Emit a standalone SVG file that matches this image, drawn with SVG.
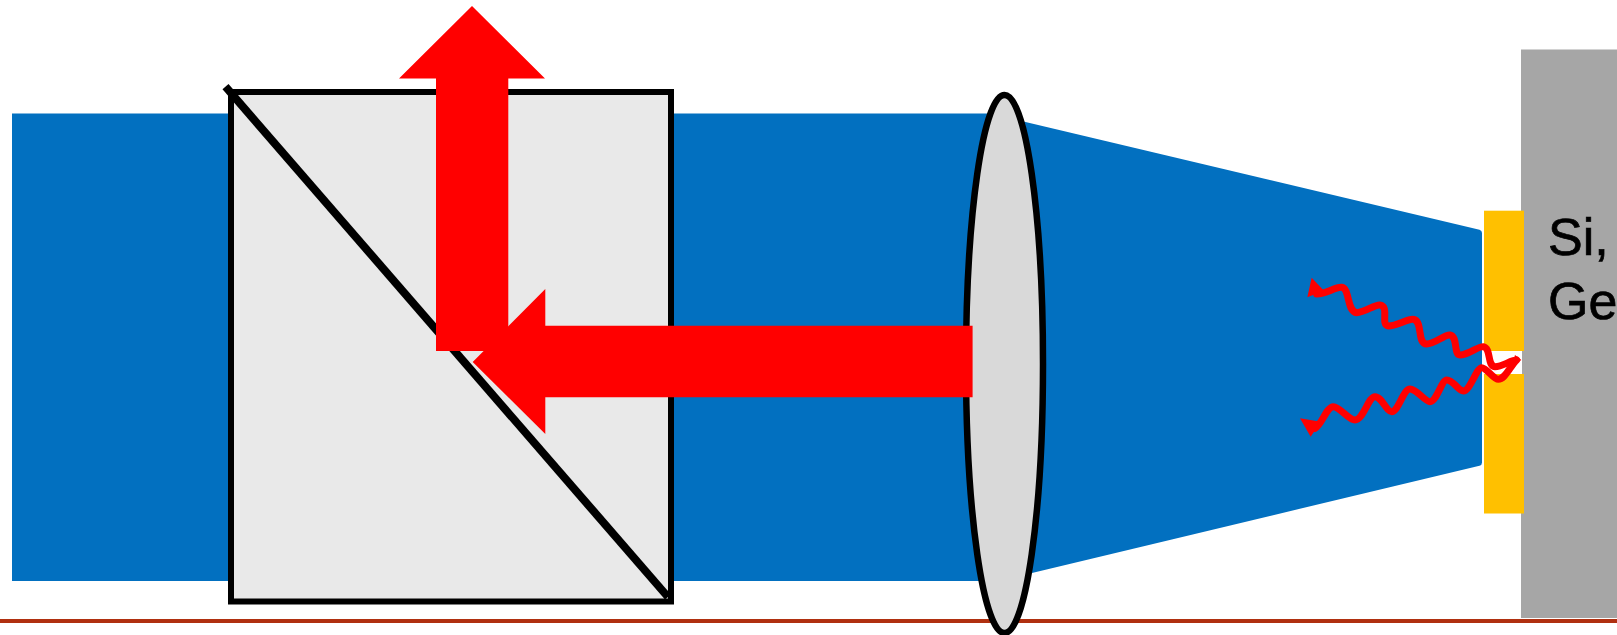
<svg xmlns="http://www.w3.org/2000/svg" width="1617" height="635" viewBox="0 0 1617 635">
<style>
.red{fill:#ff0000}
.wave{fill:none;stroke:#ff0000;stroke-width:21;stroke-linecap:round;stroke-linejoin:round}
.lbl{font-family:"Liberation Sans",Arial,sans-serif;font-size:52px;fill:#000;stroke:#000;stroke-width:.7px}
</style>
<rect width="1617" height="635" fill="#fff"/>
<path d="M12 113.500H990L1479.500 229.800Q1482 230.500 1482 233V462.500Q1482 465 1479.500 465.700L1033 572.700L990 581H12Z" fill="#0270c0"/>
<rect x="1521" y="49.500" width="96" height="568.500" fill="#a6a6a6"/>
<rect x="1482" y="351" width="40" height="23" fill="#fff"/>
<rect x="1484" y="210.700" width="40" height="140.300" fill="#ffc000"/>
<rect x="1484" y="374" width="40" height="139.500" fill="#ffc000"/>
<text class="lbl" x="1548" y="255">Si,</text>
<text class="lbl" x="1548" y="319">Ge</text>
<rect x="0" y="619" width="1617" height="4" fill="#b03010"/>
<rect x="231" y="92" width="440" height="509.500" fill="#e9e9e9" stroke="#000" stroke-width="6"/>
<line x1="225.500" y1="86.700" x2="668" y2="597" stroke="#000" stroke-width="8"/>
<ellipse cx="1004.500" cy="364" rx="38.500" ry="269" fill="#d9d9d9" stroke="#000" stroke-width="6.500"/>
<polygon class="red" points="472,6 545,78.500 508.300,78.500 508.300,351 436,351 436,78.500 399,78.500"/>
<polygon class="red" points="472.700,362 545.300,289 545.300,325.700 972.600,325.700 972.600,397.300 545.300,397.300 545.300,434"/>
<g transform="translate(1280 190) scale(.3333)">
<path class="wave" d="M110 312C140 312 165 290 185 292C210 295 200 365 230 368C255 368 285 342 300 345C330 350 300 405 325 408C350 408 385 385 400 388C430 393 410 462 440 462C465 462 495 432 510 435C535 440 520 495 540 495C565 495 595 468 610 470C635 475 620 528 645 530C665 530 680 518 700 512"/>
<path class="wave" d="M105 715C125 705 140 650 160 650C180 650 205 690 225 690C250 690 265 620 285 620C305 620 320 665 335 665C355 665 370 597 390 597C410 597 435 635 450 635C470 635 485 570 500 570C520 570 535 603 550 603C570 603 590 533 605 533C620 533 640 568 655 568C675 568 690 530 710 510"/>
<polygon class="red" points="95,263 132,302 82,322"/>
<polygon class="red" points="60,685 122,695 92,740"/>
<polygon class="red" points="724,510 695,527 705,495"/>
</g>
</svg>
